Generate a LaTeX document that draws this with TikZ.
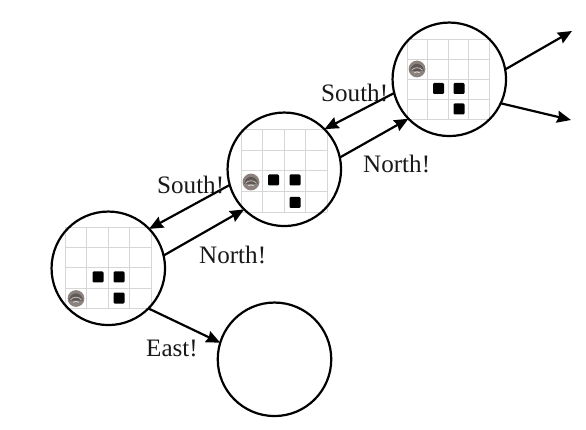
\documentclass[tikz,border=0pt]{standalone}
\usepackage{fontspec}
\setmainfont{Liberation Serif}
\usetikzlibrary{arrows.meta}
\definecolor{robotrim}{RGB}{140,130,125}
\definecolor{robotdark}{RGB}{95,88,85}
\tikzset{
  world/.style={circle,draw=black,line width=2.2pt,minimum size=113.5pt,inner sep=0pt,outer sep=0pt},
  act/.style={line width=2.2pt,-{Stealth[length=14pt,width=12pt,inset=1.5pt]},black},
  lab/.style={font=\fontsize{25.1}{28}\selectfont,inner sep=0pt,text=black!90},
  gridline/.style={draw=black!16,line width=0.6pt},
  block/.style={fill=black,rounded corners=1.2pt,minimum size=11pt,inner sep=0pt,draw=none},
}
\newcommand{\gridcells}[4]{% x0 y0 dx dy
  \foreach \i in {0,...,4}{
    \draw[gridline] ({#1+\i*#3},{#2}) -- ({#1+\i*#3},{#2+4*#4});
    \draw[gridline] ({#1},{#2+\i*#4}) -- ({#1+4*#3},{#2+\i*#4});
  }}
\newcommand{\robot}[2]{%
  \fill[robotrim] (#1,#2) circle (8.4);
  \fill[robotdark] (#1-7,#2+2) .. controls (#1-5.5,#2-7.5) and (#1+5.5,#2-7.5) .. (#1+7,#2+2) -- cycle;
  \draw[black!25,line width=0.8pt] (#1-5.6,#2+1.4) .. controls (#1-3,#2-2.2) and (#1+3,#2-2.2) .. (#1+5.6,#2+1.4);
  \draw[black!15,line width=0.8pt] (#1-2.8,#2+3.8) .. controls (#1-1,#2+2.6) and (#1+1,#2+2.6) .. (#1+2.8,#2+3.8);
}
\begin{document}
\begin{tikzpicture}[x=1pt,y=-1pt]
\useasboundingbox (0,0) rectangle (586,430);
\fill[white] (0,0) rectangle (586,430);
\gridcells{65}{227}{21.5}{20.3}
\gridcells{241}{129.5}{21.5}{20.6}
\gridcells{407}{39}{20.5}{20}
\node[world] (c1) at (108.3,268.3) {};
\node[world] (c2) at (284.3,169.3) {};
\node[world] (c3) at (449.3,79.3) {};
\node[world] (c4) at (274.5,359.3) {};
\coordinate (o1) at (572,31);
\coordinate (o2) at (571,120);
\node[block] (b11) at (98,277) {};
\node[block] (b12) at (119,277) {};
\node[block] (b13) at (119,298) {};
\node[block] (b21) at (273.5,180) {};
\node[block] (b22) at (295,180) {};
\node[block] (b23) at (295,202.5) {};
\node[block] (b31) at (438.5,88.5) {};
\node[block] (b32) at (459,88.5) {};
\node[block] (b33) at (459,109) {};
\robot{76}{298.5}
\robot{251}{182}
\robot{417}{69}
\draw[act] (c1.13) -- (c2.225);
\draw[act] (c2.196) -- (c1.44);
\draw[act] (c2.12) -- (c3.224);
\draw[act] (c3.194) -- (c2.45);
\draw[act] (c1.-45) -- (c4.163);
\draw[act] (c3.10) -- (o1);
\draw[act] (c3.-25) -- (o2);
\node[lab,anchor=base west] (n1) at (199,264) {North!};
\node[lab,anchor=base west] (s1) at (157,194) {South!};
\node[lab,anchor=base west] (n2) at (363,173) {North!};
\node[lab,anchor=base west] (s2) at (321,101.5) {South!};
\node[lab,anchor=base west] (e1) at (146,356.5) {East!};
\end{tikzpicture}
\end{document}
